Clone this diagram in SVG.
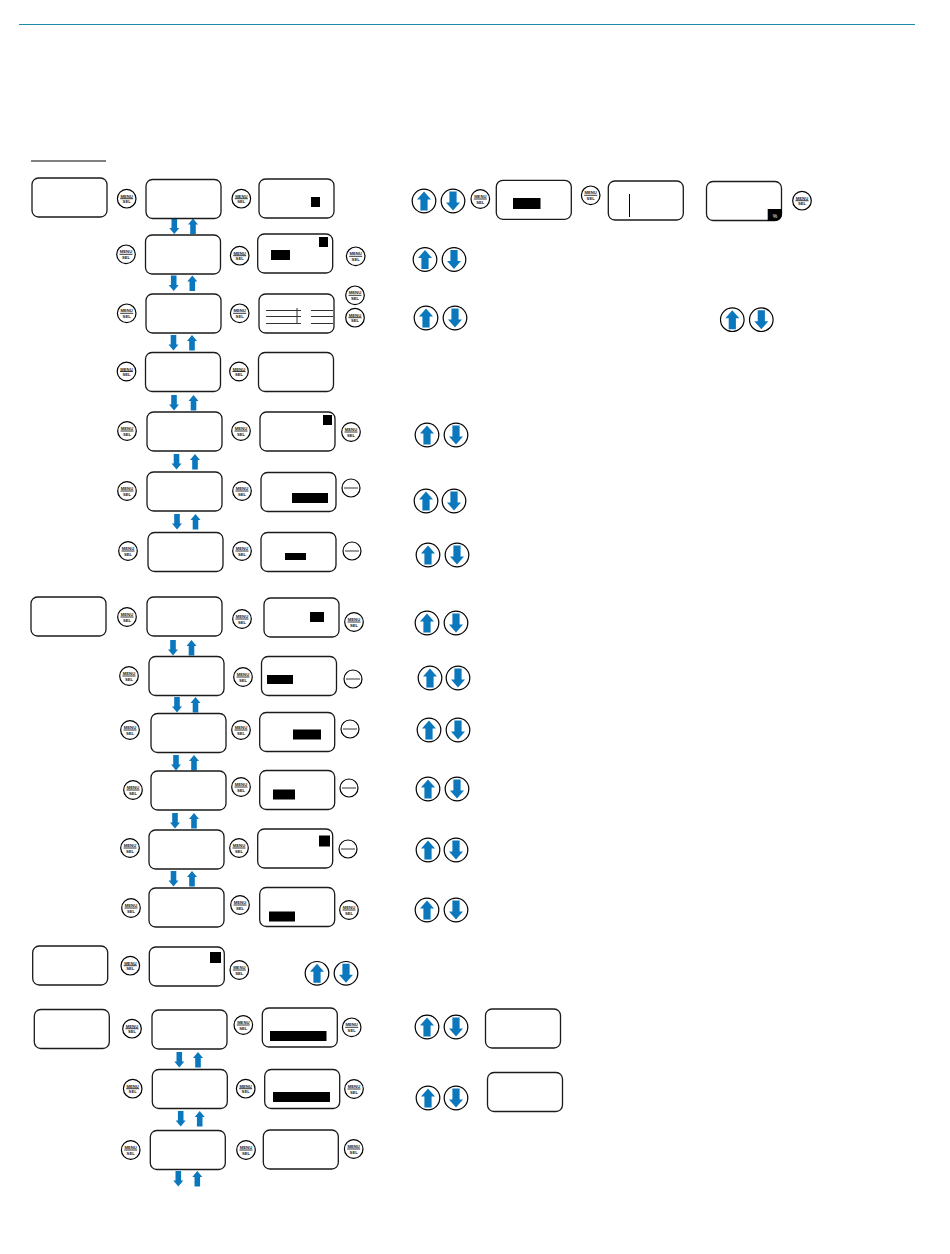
<svg xmlns="http://www.w3.org/2000/svg" width="950" height="1254" viewBox="0 0 950 1254">
<style>
.s{fill:#fff;stroke:#1a1a1a;stroke-width:1.3}
.k{fill:#000}
.c,.m circle,.n circle{fill:#fff;stroke:#000;stroke-width:1.2}
.m path,.n path{stroke:#000;stroke-width:.8;fill:none}
.m text{font:700 4.2px "Liberation Sans",Arial,sans-serif;text-anchor:middle;fill:#222}
.a{fill:#0b78bd}
.l{stroke:#333;stroke-width:1;fill:none}
</style>
<defs>
<rect id="scr" class="s" width="75" height="39" rx="6.5"/>
<path id="dn" class="a" d="M-2.8 0H2.8V9.5H5L0 15.5L-5 9.5H-2.8Z"/>
<path id="up" class="a" d="M-2.8 15.5H2.8V6H5L0 0L-5 6H-2.8Z"/>
<g id="cu"><circle class="c" r="11.8"/><path class="a" d="M-3.6 9.5H3.6V-1.5H7L0 -9.5L-7 -1.5H-3.6Z"/></g>
<g id="cd"><circle class="c" r="11.8"/><path class="a" d="M-3.6 -9.5H3.6V1.5H7L0 9.5L-7 1.5H-3.6Z"/></g>
</defs>
<path d="M19 24.5H915" stroke="#1b8aa8" stroke-width="1" fill="none"/>
<path d="M31 161H106" stroke="#000" stroke-width="1" fill="none"/>
<g id="connectors">
<use href="#dn" x="174.3" y="218.5"/><use href="#up" x="193" y="218.5"/>
<use href="#dn" x="173.7" y="275.5"/><use href="#up" x="192.3" y="275.5"/>
<use href="#dn" x="173.5" y="335"/><use href="#up" x="192" y="335"/>
<use href="#dn" x="174" y="395"/><use href="#up" x="193.5" y="395"/>
<use href="#dn" x="176.5" y="454"/><use href="#up" x="195" y="454"/>
<use href="#dn" x="177" y="514"/><use href="#up" x="195.5" y="514"/>
<use href="#dn" x="173" y="640"/><use href="#up" x="191.5" y="640"/>
<use href="#dn" x="177" y="697"/><use href="#up" x="195.5" y="697"/>
<use href="#dn" x="176" y="755"/><use href="#up" x="194" y="755"/>
<use href="#dn" x="175" y="813"/><use href="#up" x="194" y="813"/>
<use href="#dn" x="173.5" y="871"/><use href="#up" x="192" y="871"/>
<use href="#dn" x="179.3" y="1052"/><use href="#up" x="198" y="1052"/>
<use href="#dn" x="180.7" y="1111"/><use href="#up" x="199.7" y="1111"/>
<use href="#dn" x="178.3" y="1171"/><use href="#up" x="197.3" y="1171"/>
</g>
<g id="screens">
<g id="a1"><use href="#scr" x="32" y="178"/></g>
<g id="b1"><use href="#scr" x="146" y="179.5"/></g>
<g id="c1"><use href="#scr" x="259" y="179"/><rect class="k" x="311" y="197" width="9" height="10"/></g>
<g id="b2"><use href="#scr" x="145.5" y="235"/></g>
<g id="c2"><use href="#scr" x="257.7" y="234"/><rect class="k" x="319" y="237" width="9" height="10"/><rect class="k" x="271" y="250" width="19" height="10"/></g>
<g id="b3"><use href="#scr" x="146" y="294"/></g>
<g id="c3"><use href="#scr" x="259" y="294"/><path class="l" d="M266 310.5H301M266 316.5H301M266 323.5H301M297 308V323.5M311 310.5H333M311 316.5H333M311 323.5H333"/></g>
<g id="b4"><use href="#scr" x="145.5" y="352.5"/></g>
<g id="c4"><use href="#scr" x="258.5" y="352.5"/></g>
<g id="b5"><use href="#scr" x="147" y="412"/></g>
<g id="c5"><use href="#scr" x="260" y="412"/><rect class="k" x="323" y="415" width="9" height="10"/></g>
<g id="b6"><use href="#scr" x="147" y="472"/></g>
<g id="c6"><use href="#scr" x="261" y="472.5"/><rect class="k" x="292" y="493" width="36" height="10"/></g>
<g id="b7"><use href="#scr" x="148" y="532.5"/></g>
<g id="c7"><use href="#scr" x="261" y="532.5"/><rect class="k" x="285" y="553" width="21" height="7"/></g>
<g id="a2"><use href="#scr" x="31" y="597"/></g>
<g id="b8"><use href="#scr" x="147" y="597"/></g>
<g id="c8"><use href="#scr" x="264" y="598"/><rect class="k" x="310" y="612" width="14" height="10"/></g>
<g id="b9"><use href="#scr" x="149" y="656.5"/></g>
<g id="c9"><use href="#scr" x="261.5" y="656.5"/><rect class="k" x="267" y="675" width="26" height="9"/></g>
<g id="b10"><use href="#scr" x="151" y="713.5"/></g>
<g id="c10"><use href="#scr" x="259.7" y="712.5"/><rect class="k" x="293" y="729.5" width="28" height="10"/></g>
<g id="b11"><use href="#scr" x="151" y="771"/></g>
<g id="c11"><use href="#scr" x="259.7" y="770.5"/><rect class="k" x="273" y="789.5" width="22" height="10"/></g>
<g id="b12"><use href="#scr" x="149" y="830"/></g>
<g id="c12"><use href="#scr" x="257.7" y="829"/><rect class="k" x="319" y="835.5" width="11" height="11"/></g>
<g id="b13"><use href="#scr" x="149" y="888"/></g>
<g id="c13"><use href="#scr" x="259.7" y="887.5"/><rect class="k" x="269" y="911.5" width="26" height="10"/></g>
<g id="a3"><use href="#scr" x="32.7" y="946"/></g>
<g id="b14"><use href="#scr" x="149.3" y="947"/><rect class="k" x="210" y="952" width="11" height="11"/></g>
<g id="a4"><use href="#scr" x="34.3" y="1009.5"/></g>
<g id="b15"><use href="#scr" x="152" y="1010"/></g>
<g id="c15"><use href="#scr" x="262.3" y="1008"/><rect class="k" x="270" y="1031" width="56.5" height="10"/></g>
<g id="b16"><use href="#scr" x="152.3" y="1069.5"/></g>
<g id="c16"><use href="#scr" x="264.7" y="1069.5"/><rect class="k" x="273" y="1092" width="57" height="10"/></g>
<g id="b17"><use href="#scr" x="150.3" y="1130.5"/></g>
<g id="c17"><use href="#scr" x="263.3" y="1130"/></g>
<g id="d1"><use href="#scr" x="496.3" y="180.3"/><rect class="k" x="513" y="198" width="27.5" height="11"/></g>
<g id="d2"><use href="#scr" x="608.3" y="181"/><path d="M629.5 194V217" stroke="#000" stroke-width="1" fill="none"/></g>
<g id="d3"><use href="#scr" x="706.5" y="181.5"/><path class="k" d="M767.7 209H781.9V215a6.5 6.5 0 0 1-6.5 6H767.7Z"/><text x="775" y="218" font-family="Liberation Sans,sans-serif" font-size="5" fill="#fff" text-anchor="middle">%</text></g>
<g id="e1"><use href="#scr" x="485.5" y="1009"/></g>
<g id="e2"><use href="#scr" x="487.5" y="1072.5"/></g>
</g>
<g id="buttons">
<g id="m1" class="m" transform="translate(126.7 198.7)"><circle r="9.3"/><path d="M-6.5 0H6.5"/><text y="-1">MENU</text><text y="4.5">SEL</text></g>
<g id="m2" class="m" transform="translate(241.3 198.7)"><circle r="9.3"/><path d="M-6.5 0H6.5"/><text y="-1">MENU</text><text y="4.5">SEL</text></g>
<g id="m3" class="m" transform="translate(126 254.3)"><circle r="9.3"/><path d="M-6.5 0H6.5"/><text y="-1">MENU</text><text y="4.5">SEL</text></g>
<g id="m4" class="m" transform="translate(239.7 255.7)"><circle r="9.3"/><path d="M-6.5 0H6.5"/><text y="-1">MENU</text><text y="4.5">SEL</text></g>
<g id="m5" class="m" transform="translate(355.7 256.3)"><circle r="9.3"/><path d="M-6.5 0H6.5"/><text y="-1">MENU</text><text y="4.5">SEL</text></g>
<g id="m6" class="m" transform="translate(126.7 313.3)"><circle r="9.3"/><path d="M-6.5 0H6.5"/><text y="-1">MENU</text><text y="4.5">SEL</text></g>
<g id="m7" class="m" transform="translate(239.7 313.3)"><circle r="9.3"/><path d="M-6.5 0H6.5"/><text y="-1">MENU</text><text y="4.5">SEL</text></g>
<g id="m8" class="m" transform="translate(355 295.3)"><circle r="9.3"/><path d="M-6.5 0H6.5"/><text y="-1">MENU</text><text y="4.5">SEL</text></g>
<g id="m9" class="m" transform="translate(355 317.7)"><circle r="9.3"/><path d="M-6.5 0H6.5"/><text y="-1">MENU</text><text y="4.5">SEL</text></g>
<g id="m10" class="m" transform="translate(126.5 371.5)"><circle r="9.3"/><path d="M-6.5 0H6.5"/><text y="-1">MENU</text><text y="4.5">SEL</text></g>
<g id="m11" class="m" transform="translate(239 371.5)"><circle r="9.3"/><path d="M-6.5 0H6.5"/><text y="-1">MENU</text><text y="4.5">SEL</text></g>
<g id="m12" class="m" transform="translate(127 431)"><circle r="9.3"/><path d="M-6.5 0H6.5"/><text y="-1">MENU</text><text y="4.5">SEL</text></g>
<g id="m13" class="m" transform="translate(241 431)"><circle r="9.3"/><path d="M-6.5 0H6.5"/><text y="-1">MENU</text><text y="4.5">SEL</text></g>
<g id="m14" class="m" transform="translate(351 432)"><circle r="9.3"/><path d="M-6.5 0H6.5"/><text y="-1">MENU</text><text y="4.5">SEL</text></g>
<g id="m15" class="m" transform="translate(127 491)"><circle r="9.3"/><path d="M-6.5 0H6.5"/><text y="-1">MENU</text><text y="4.5">SEL</text></g>
<g id="m16" class="m" transform="translate(242 491)"><circle r="9.3"/><path d="M-6.5 0H6.5"/><text y="-1">MENU</text><text y="4.5">SEL</text></g>
<g id="m17" class="m" transform="translate(128 551)"><circle r="9.3"/><path d="M-6.5 0H6.5"/><text y="-1">MENU</text><text y="4.5">SEL</text></g>
<g id="m18" class="m" transform="translate(242 551)"><circle r="9.3"/><path d="M-6.5 0H6.5"/><text y="-1">MENU</text><text y="4.5">SEL</text></g>
<g id="m19" class="m" transform="translate(127 617)"><circle r="9.3"/><path d="M-6.5 0H6.5"/><text y="-1">MENU</text><text y="4.5">SEL</text></g>
<g id="m20" class="m" transform="translate(242 619)"><circle r="9.3"/><path d="M-6.5 0H6.5"/><text y="-1">MENU</text><text y="4.5">SEL</text></g>
<g id="m21" class="m" transform="translate(354 622)"><circle r="9.3"/><path d="M-6.5 0H6.5"/><text y="-1">MENU</text><text y="4.5">SEL</text></g>
<g id="m22" class="m" transform="translate(129 676)"><circle r="9.3"/><path d="M-6.5 0H6.5"/><text y="-1">MENU</text><text y="4.5">SEL</text></g>
<g id="m23" class="m" transform="translate(243 677)"><circle r="9.3"/><path d="M-6.5 0H6.5"/><text y="-1">MENU</text><text y="4.5">SEL</text></g>
<g id="m24" class="m" transform="translate(130 730)"><circle r="9.3"/><path d="M-6.5 0H6.5"/><text y="-1">MENU</text><text y="4.5">SEL</text></g>
<g id="m25" class="m" transform="translate(241 730)"><circle r="9.3"/><path d="M-6.5 0H6.5"/><text y="-1">MENU</text><text y="4.5">SEL</text></g>
<g id="m26" class="m" transform="translate(133 790)"><circle r="9.3"/><path d="M-6.5 0H6.5"/><text y="-1">MENU</text><text y="4.5">SEL</text></g>
<g id="m27" class="m" transform="translate(241 787)"><circle r="9.3"/><path d="M-6.5 0H6.5"/><text y="-1">MENU</text><text y="4.5">SEL</text></g>
<g id="m28" class="m" transform="translate(130 848)"><circle r="9.3"/><path d="M-6.5 0H6.5"/><text y="-1">MENU</text><text y="4.5">SEL</text></g>
<g id="m29" class="m" transform="translate(239 848)"><circle r="9.3"/><path d="M-6.5 0H6.5"/><text y="-1">MENU</text><text y="4.5">SEL</text></g>
<g id="m30" class="m" transform="translate(131 908)"><circle r="9.3"/><path d="M-6.5 0H6.5"/><text y="-1">MENU</text><text y="4.5">SEL</text></g>
<g id="m31" class="m" transform="translate(240 905)"><circle r="9.3"/><path d="M-6.5 0H6.5"/><text y="-1">MENU</text><text y="4.5">SEL</text></g>
<g id="m32" class="m" transform="translate(349 910)"><circle r="9.3"/><path d="M-6.5 0H6.5"/><text y="-1">MENU</text><text y="4.5">SEL</text></g>
<g id="m33" class="m" transform="translate(130.3 965.7)"><circle r="9.3"/><path d="M-6.5 0H6.5"/><text y="-1">MENU</text><text y="4.5">SEL</text></g>
<g id="m34" class="m" transform="translate(239.3 970)"><circle r="9.3"/><path d="M-6.5 0H6.5"/><text y="-1">MENU</text><text y="4.5">SEL</text></g>
<g id="m35" class="m" transform="translate(132 1028.7)"><circle r="9.3"/><path d="M-6.5 0H6.5"/><text y="-1">MENU</text><text y="4.5">SEL</text></g>
<g id="m36" class="m" transform="translate(243.3 1025)"><circle r="9.3"/><path d="M-6.5 0H6.5"/><text y="-1">MENU</text><text y="4.5">SEL</text></g>
<g id="m37" class="m" transform="translate(351.7 1027.3)"><circle r="9.3"/><path d="M-6.5 0H6.5"/><text y="-1">MENU</text><text y="4.5">SEL</text></g>
<g id="m38" class="m" transform="translate(132.7 1088.7)"><circle r="9.3"/><path d="M-6.5 0H6.5"/><text y="-1">MENU</text><text y="4.5">SEL</text></g>
<g id="m39" class="m" transform="translate(245.7 1088.7)"><circle r="9.3"/><path d="M-6.5 0H6.5"/><text y="-1">MENU</text><text y="4.5">SEL</text></g>
<g id="m40" class="m" transform="translate(354 1089)"><circle r="9.3"/><path d="M-6.5 0H6.5"/><text y="-1">MENU</text><text y="4.5">SEL</text></g>
<g id="m41" class="m" transform="translate(130.7 1150)"><circle r="9.3"/><path d="M-6.5 0H6.5"/><text y="-1">MENU</text><text y="4.5">SEL</text></g>
<g id="m42" class="m" transform="translate(246 1150)"><circle r="9.3"/><path d="M-6.5 0H6.5"/><text y="-1">MENU</text><text y="4.5">SEL</text></g>
<g id="m43" class="m" transform="translate(353.7 1149)"><circle r="9.3"/><path d="M-6.5 0H6.5"/><text y="-1">MENU</text><text y="4.5">SEL</text></g>
<g id="m44" class="m" transform="translate(480.3 199)"><circle r="9.3"/><path d="M-6.5 0H6.5"/><text y="-1">MENU</text><text y="4.5">SEL</text></g>
<g id="m45" class="m" transform="translate(590.7 195.3)"><circle r="9.3"/><path d="M-6.5 0H6.5"/><text y="-1">MENU</text><text y="4.5">SEL</text></g>
<g id="m46" class="m" transform="translate(802 200.7)"><circle r="9.3"/><path d="M-6.5 0H6.5"/><text y="-1">MENU</text><text y="4.5">SEL</text></g>
</g>
<g id="minus-buttons">
<g id="n1" class="n" transform="translate(351 488)"><circle r="9"/><path d="M-7 0H7"/></g>
<g id="n2" class="n" transform="translate(352 551)"><circle r="9"/><path d="M-7 0H7"/></g>
<g id="n3" class="n" transform="translate(353 679)"><circle r="9"/><path d="M-7 0H7"/></g>
<g id="n4" class="n" transform="translate(350 729)"><circle r="9"/><path d="M-7 0H7"/></g>
<g id="n5" class="n" transform="translate(349 788)"><circle r="9"/><path d="M-7 0H7"/></g>
<g id="n6" class="n" transform="translate(348 849)"><circle r="9"/><path d="M-7 0H7"/></g>
</g>
<g id="arrow-buttons">
<g id="p1"><use href="#cu" x="424" y="201"/><use href="#cd" x="453" y="201"/></g>
<g id="p2"><use href="#cu" x="425" y="259.5"/><use href="#cd" x="454" y="259.5"/></g>
<g id="p3"><use href="#cu" x="426" y="318"/><use href="#cd" x="455" y="318"/></g>
<g id="p4"><use href="#cu" x="732.3" y="319.7"/><use href="#cd" x="761.3" y="319.7"/></g>
<g id="p5"><use href="#cu" x="427" y="435"/><use href="#cd" x="456" y="435"/></g>
<g id="p6"><use href="#cu" x="426" y="501"/><use href="#cd" x="454" y="501"/></g>
<g id="p7"><use href="#cu" x="428" y="555"/><use href="#cd" x="457" y="555"/></g>
<g id="p8"><use href="#cu" x="427" y="623"/><use href="#cd" x="456" y="623"/></g>
<g id="p9"><use href="#cu" x="430" y="678"/><use href="#cd" x="458" y="678"/></g>
<g id="p10"><use href="#cu" x="429" y="730"/><use href="#cd" x="458" y="730"/></g>
<g id="p11"><use href="#cu" x="428" y="789"/><use href="#cd" x="457" y="789"/></g>
<g id="p12"><use href="#cu" x="428" y="850"/><use href="#cd" x="456" y="850"/></g>
<g id="p13"><use href="#cu" x="427" y="910"/><use href="#cd" x="456" y="910"/></g>
<g id="p14"><use href="#cu" x="317" y="973.3"/><use href="#cd" x="346" y="973.3"/></g>
<g id="p15"><use href="#cu" x="427" y="1027"/><use href="#cd" x="456" y="1027"/></g>
<g id="p16"><use href="#cu" x="428" y="1098"/><use href="#cd" x="456" y="1098"/></g>
</g>
</svg>
